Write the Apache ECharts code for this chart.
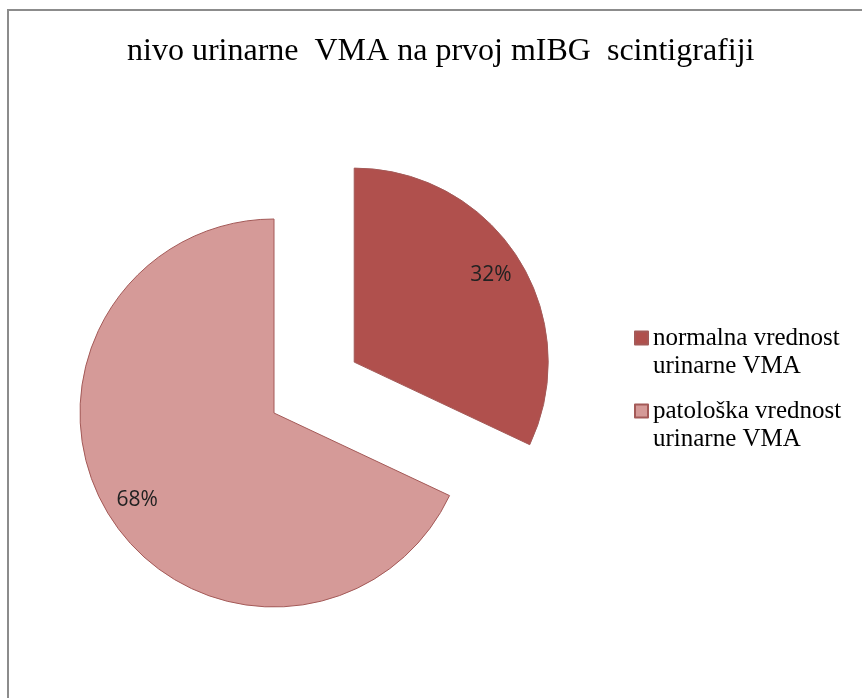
<!DOCTYPE html>
<html>
<head>
<meta charset="utf-8">
<script src="https://cdn.jsdelivr.net/npm/echarts@6/dist/echarts.min.js"></script>
<style>
  html, body { margin: 0; padding: 0; background: #fff; }
  #chart { width: 862px; height: 698px; }
</style>
</head>
<body>
<div id="chart"></div>
<script>
// chart data
const categories = ['normalna vrednost\nurinarne VMA', 'patološka vrednost\nurinarne VMA']
const values = [32, 68]
const sliceColors = ['#B0504D', '#D59A98']
const titleText = 'nivo urinarne  VMA na prvoj mIBG  scintigrafiji'

const chart = echarts.init(document.getElementById('chart'))

const pieData = categories.map((name, i) => ({
  name: name,
  value: values[i],
  selected: i === 0,
  itemStyle: { color: sliceColors[i] }
}))

chart.setOption({
  animation: false,
  backgroundColor: '#fff',
  title: {
    text: titleText,
    left: 122,
    top: 31,
    textStyle: {
      fontFamily: 'Liberation Serif',
      fontWeight: 'normal',
      fontSize: 32,
      color: '#000'
    }
  },
  legend: {
    orient: 'vertical',
    left: 634,
    top: 296,
    padding: 0,
    icon: 'rect',
    itemWidth: 13,
    itemHeight: 13,
    itemGap: -11,
    data: categories,
    // leading blank line keeps the marker level with the first text line
    formatter: name => '\n' + name,
    textStyle: {
      fontFamily: 'Liberation Serif',
      fontSize: 25,
      lineHeight: 28,
      color: '#000'
    }
  },
  // grey frame of the chart area
  graphic: [{
    type: 'rect',
    shape: { x: 8, y: 10, width: 900, height: 800 },
    style: { fill: 'none', stroke: '#8c8c8c', lineWidth: 2 },
    silent: true
  }],
  series: [
    {
      type: 'pie',
      center: [274, 413],
      radius: 194,
      startAngle: 90,
      clockwise: true,
      selectedMode: 'single',
      selectedOffset: 95,
      label: { show: false },
      labelLine: { show: false },
      itemStyle: { borderColor: '#A45A58', borderWidth: 1 },
      emphasis: { disabled: true },
      data: pieData
    },
    {
      // transparent copy used only to place the percent labels
      type: 'pie',
      center: [274, 413],
      radius: 318,
      startAngle: 90,
      clockwise: true,
      selectedMode: 'single',
      selectedOffset: 95,
      silent: true,
      z: 3,
      itemStyle: { color: 'rgba(0,0,0,0)', borderWidth: 0 },
      label: {
        show: true,
        position: 'inside',
        formatter: '{d}%',
        fontFamily: 'Open Sans',
        fontSize: 21,
        color: '#222'
      },
      labelLine: { show: false },
      emphasis: { disabled: true },
      data: categories.map((name, i) => ({ name: name, value: values[i], selected: i === 0 }))
    }
  ]
})
</script>
</body>
</html>
